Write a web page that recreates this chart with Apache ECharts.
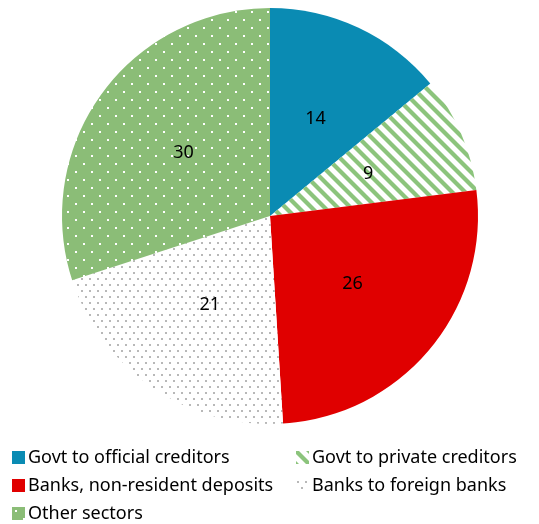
<!DOCTYPE html>
<html>
<head>
<meta charset="utf-8">
<script src="https://cdn.jsdelivr.net/npm/echarts@6/dist/echarts.min.js"></script>
<style>
  html, body { margin: 0; padding: 0; background: #fff; }
  #chart { width: 539px; height: 524px; }
</style>
</head>
<body>
<div id="chart"></div>
<script>
// External debt by sector (per cent of total)
const categories = [
  'Govt to official creditors',
  'Govt to private creditors',
  'Banks, non-resident deposits',
  'Banks to foreign banks',
  'Other sectors'
];
const shares = [14, 9, 26, 21, 30];

// Fill patterns drawn on small tiles
function stripeTile() {
  const c = document.createElement('canvas');
  c.width = 13; c.height = 13;
  const g = c.getContext('2d');
  g.strokeStyle = '#8cc47c';
  g.lineWidth = 4.2;
  for (let k = -1; k <= 1; k++) {
    g.beginPath();
    g.moveTo(-3, -3 + 13 * k);
    g.lineTo(16, 16 + 13 * k);
    g.stroke();
  }
  return c;
}
function greenDotTile() {
  const c = document.createElement('canvas');
  c.width = 16; c.height = 16;
  const g = c.getContext('2d');
  g.fillStyle = '#8bbd77';
  g.fillRect(0, 0, 16, 16);
  g.fillStyle = '#ffffff';
  g.fillRect(3, 3, 2, 2);
  g.fillRect(11, 11, 2, 2);
  return c;
}
function greyDotTile() {
  const c = document.createElement('canvas');
  c.width = 8; c.height = 12;
  const g = c.getContext('2d');
  g.fillStyle = '#ffffff';
  g.fillRect(0, 0, 8, 12);
  g.fillStyle = '#b8b8b8';
  g.fillRect(1, 2, 2, 2);
  g.fillRect(5, 8, 2, 2);
  return c;
}

const fills = [
  '#0a8bb3',
  { image: stripeTile(), repeat: 'repeat' },
  '#e00000',
  { image: greyDotTile(), repeat: 'repeat' },
  { image: greenDotTile(), repeat: 'repeat' }
];

const chart = echarts.init(document.getElementById('chart'));
chart.setOption({
  animation: false,
  legend: {
    left: 12,
    top: 448,
    width: 600,
    padding: 0,
    itemWidth: 13,
    itemHeight: 13,
    itemGap: 9,
    icon: 'rect',
    selectedMode: false,
    data: categories,
    textStyle: {
      fontFamily: 'Noto Sans',
      fontSize: 18,
      color: '#000',
      width: 259,
      lineHeight: 19,
      padding: [0, 0, 0, -2],
      overflow: 'none'
    }
  },
  series: [{
    type: 'pie',
    center: [270, 216],
    radius: 208,
    startAngle: 90,
    clockwise: true,
    silent: true,
    label: {
      show: true,
      position: 'inside',
      fontFamily: 'Noto Sans',
      fontSize: 18,
      color: '#000',
      formatter: '{c}'
    },
    labelLine: { show: false },
    data: categories.map((name, i) => ({
      name,
      value: shares[i],
      itemStyle: { color: fills[i] }
    }))
  }]
});
</script>
</body>
</html>
